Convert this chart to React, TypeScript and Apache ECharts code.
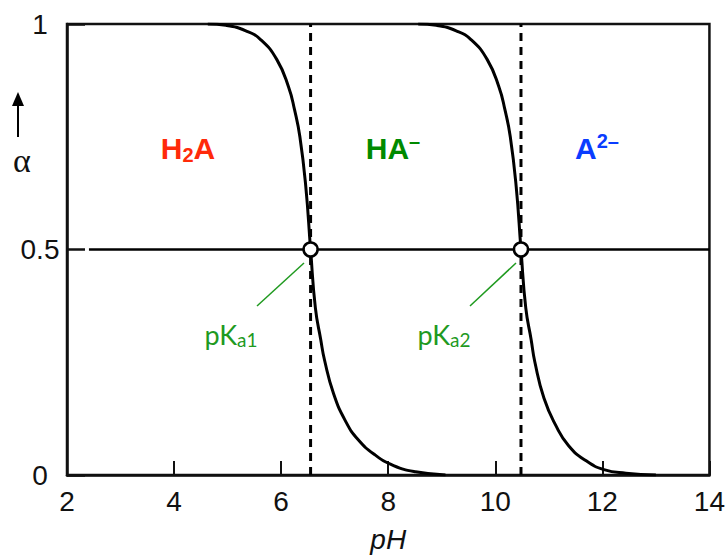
import React, { useEffect, useRef } from "react";
import * as echarts from "echarts";

const xTicks = [2, 4, 6, 8, 10, 12, 14];
const yTicks = [0, 0.5, 1];
const pKa = [6.55, 10.48];
const halfLineStart = 2.41;

const phCurve1 = [4.63, 4.97, 5.34, 5.62, 5.92, 6.14, 6.25, 6.35, 6.46, 6.55, 6.64, 6.74, 6.81, 6.98, 7.2, 7.44, 7.76, 8.1, 8.51, 9.07];
const alphaCurve1 = [1.0, 0.997, 0.985, 0.965, 0.921, 0.86, 0.81, 0.75, 0.64, 0.5, 0.37, 0.3, 0.255, 0.18, 0.12, 0.078, 0.044, 0.021, 0.007, 0.0];
const phCurve2 = [8.56, 8.9, 9.27, 9.55, 9.85, 10.07, 10.18, 10.28, 10.39, 10.48, 10.57, 10.67, 10.74, 10.91, 11.13, 11.37, 11.69, 12.03, 12.44, 13.0];
const alphaCurve2 = [1.0, 0.997, 0.985, 0.965, 0.921, 0.86, 0.81, 0.75, 0.64, 0.5, 0.37, 0.3, 0.25, 0.17, 0.11, 0.065, 0.032, 0.012, 0.004, 0.0];

const SANS = "'Liberation Sans', Arial, Helvetica, sans-serif";

export default function App() {
  const ref = useRef<HTMLDivElement>(null);
  useEffect(() => {
    if (!ref.current) return;
    const chart = echarts.init(ref.current, undefined, { renderer: "svg" });
    const zip = (xs: number[], ys: number[]) => xs.map((x, i) => [x, ys[i]]);
    const curveStyle = { color: "#000", width: 3 };
    const bigLabel = (color: string) => ({
      b: { fontSize: 30, fontWeight: "bold", fill: color, fontFamily: SANS, lineHeight: 34 },
      s: { fontSize: 20, fontWeight: "bold", fill: color, fontFamily: SANS, lineHeight: 24, verticalAlign: "bottom" },
      u: { fontSize: 20, fontWeight: "bold", fill: color, fontFamily: SANS, lineHeight: 20, verticalAlign: "top" },
    });
    const pkFont = "'Lato', 'Noto Sans', sans-serif";
    const pkRich = {
      p: { fontSize: 27, fill: "#1f9a1f", fontFamily: pkFont, lineHeight: 30 },
      s: { fontSize: 19, fill: "#1f9a1f", fontFamily: pkFont, lineHeight: 24, verticalAlign: "bottom" },
    };
    chart.setOption({
      animation: false,
      grid: { left: 67, right: 17, top: 24, bottom: 76, show: true, borderColor: "#111", borderWidth: 2.5, backgroundColor: "transparent" },
      xAxis: {
        type: "value",
        min: 2,
        max: 14,
        interval: 2,
        name: "pH",
        nameLocation: "middle",
        nameGap: 50,
        nameTextStyle: { fontSize: 28, fontStyle: "italic", color: "#111", fontFamily: SANS },
        axisLine: { show: true, lineStyle: { color: "#111", width: 2.5 } },
        axisTick: { show: true, inside: true, length: 14, lineStyle: { color: "#111", width: 2 } },
        axisLabel: { fontSize: 28, color: "#111", fontFamily: SANS, margin: 12, customValues: xTicks },
        splitLine: { show: false },
      },
      yAxis: {
        type: "value",
        min: 0,
        max: 1,
        interval: 0.5,
        axisLine: { show: true, lineStyle: { color: "#111", width: 2.5 } },
        axisTick: { show: true, inside: true, length: 18, lineStyle: { color: "#111", width: 2.5 } },
        axisLabel: { fontSize: 28, color: "#111", fontFamily: SANS, margin: 27, align: "center", formatter: (v: number) => (yTicks.includes(v) ? String(v) : "") },
        splitLine: { show: false },
      },
      series: [
        ...pKa.map((p) => ({
          type: "line",
          data: [[p, 0], [p, 1]],
          symbol: "none",
          lineStyle: { color: "#000", width: 3, type: [8, 6] },
          z: 2,
        })),
        {
          type: "line",
          data: [[halfLineStart, 0.5], [14, 0.5]],
          symbol: "none",
          lineStyle: { color: "#000", width: 2.5 },
          z: 3,
        },
        {
          type: "line",
          data: zip(phCurve1, alphaCurve1),
          symbol: "none",
          smooth: 0.5,
          lineStyle: curveStyle,
          z: 4,
        },
        {
          type: "line",
          data: zip(phCurve2, alphaCurve2),
          symbol: "none",
          smooth: 0.5,
          lineStyle: curveStyle,
          z: 4,
        },
        {
          type: "scatter",
          data: pKa.map((p) => [p, 0.5]),
          symbol: "circle",
          symbolSize: 14,
          itemStyle: { color: "#ffffff", opacity: 1, borderColor: "#000", borderWidth: 2.5 },
          z: 10,
        },
      ],
      graphic: [
        { type: "line", shape: { x1: 18, y1: 137, x2: 18, y2: 100 }, style: { stroke: "#000", lineWidth: 2 } },
        { type: "polygon", shape: { points: [[18, 92], [12, 106], [24, 106]] }, style: { fill: "#000" } },
        { type: "text", x: 22, y: 160, style: { text: "α", font: "34px 'Liberation Serif', 'DejaVu Serif', serif", fill: "#111", align: "center", verticalAlign: "middle" } },
        { type: "text", x: 188, y: 148, style: { text: "{b|H}{s|2}{b|A}", rich: bigLabel("#ff2a0a"), align: "center", verticalAlign: "middle" } },
        { type: "text", x: 393, y: 148, style: { text: "{b|HA}{u|–}", rich: bigLabel("#008a00"), align: "center", verticalAlign: "middle" } },
        { type: "text", x: 597, y: 148, style: { text: "{b|A}{u|2–}", rich: bigLabel("#0a3cff"), align: "center", verticalAlign: "middle" } },
        { type: "line", shape: { x1: 257, y1: 306, x2: 304, y2: 263 }, style: { stroke: "#1f9a1f", lineWidth: 1.5 } },
        { type: "line", shape: { x1: 470, y1: 306, x2: 516, y2: 263 }, style: { stroke: "#1f9a1f", lineWidth: 1.5 } },
        { type: "text", x: 231, y: 334, style: { text: "{p|pK}{s|a1}", rich: pkRich, align: "center", verticalAlign: "middle" } },
        { type: "text", x: 444, y: 334, style: { text: "{p|pK}{s|a2}", rich: pkRich, align: "center", verticalAlign: "middle" } },
      ],
    });
    return () => chart.dispose();
  }, []);
  return <div ref={ref} style={{ position: "fixed", left: 0, top: 0, width: 728, height: 558, background: "#fff" }} />;
}
